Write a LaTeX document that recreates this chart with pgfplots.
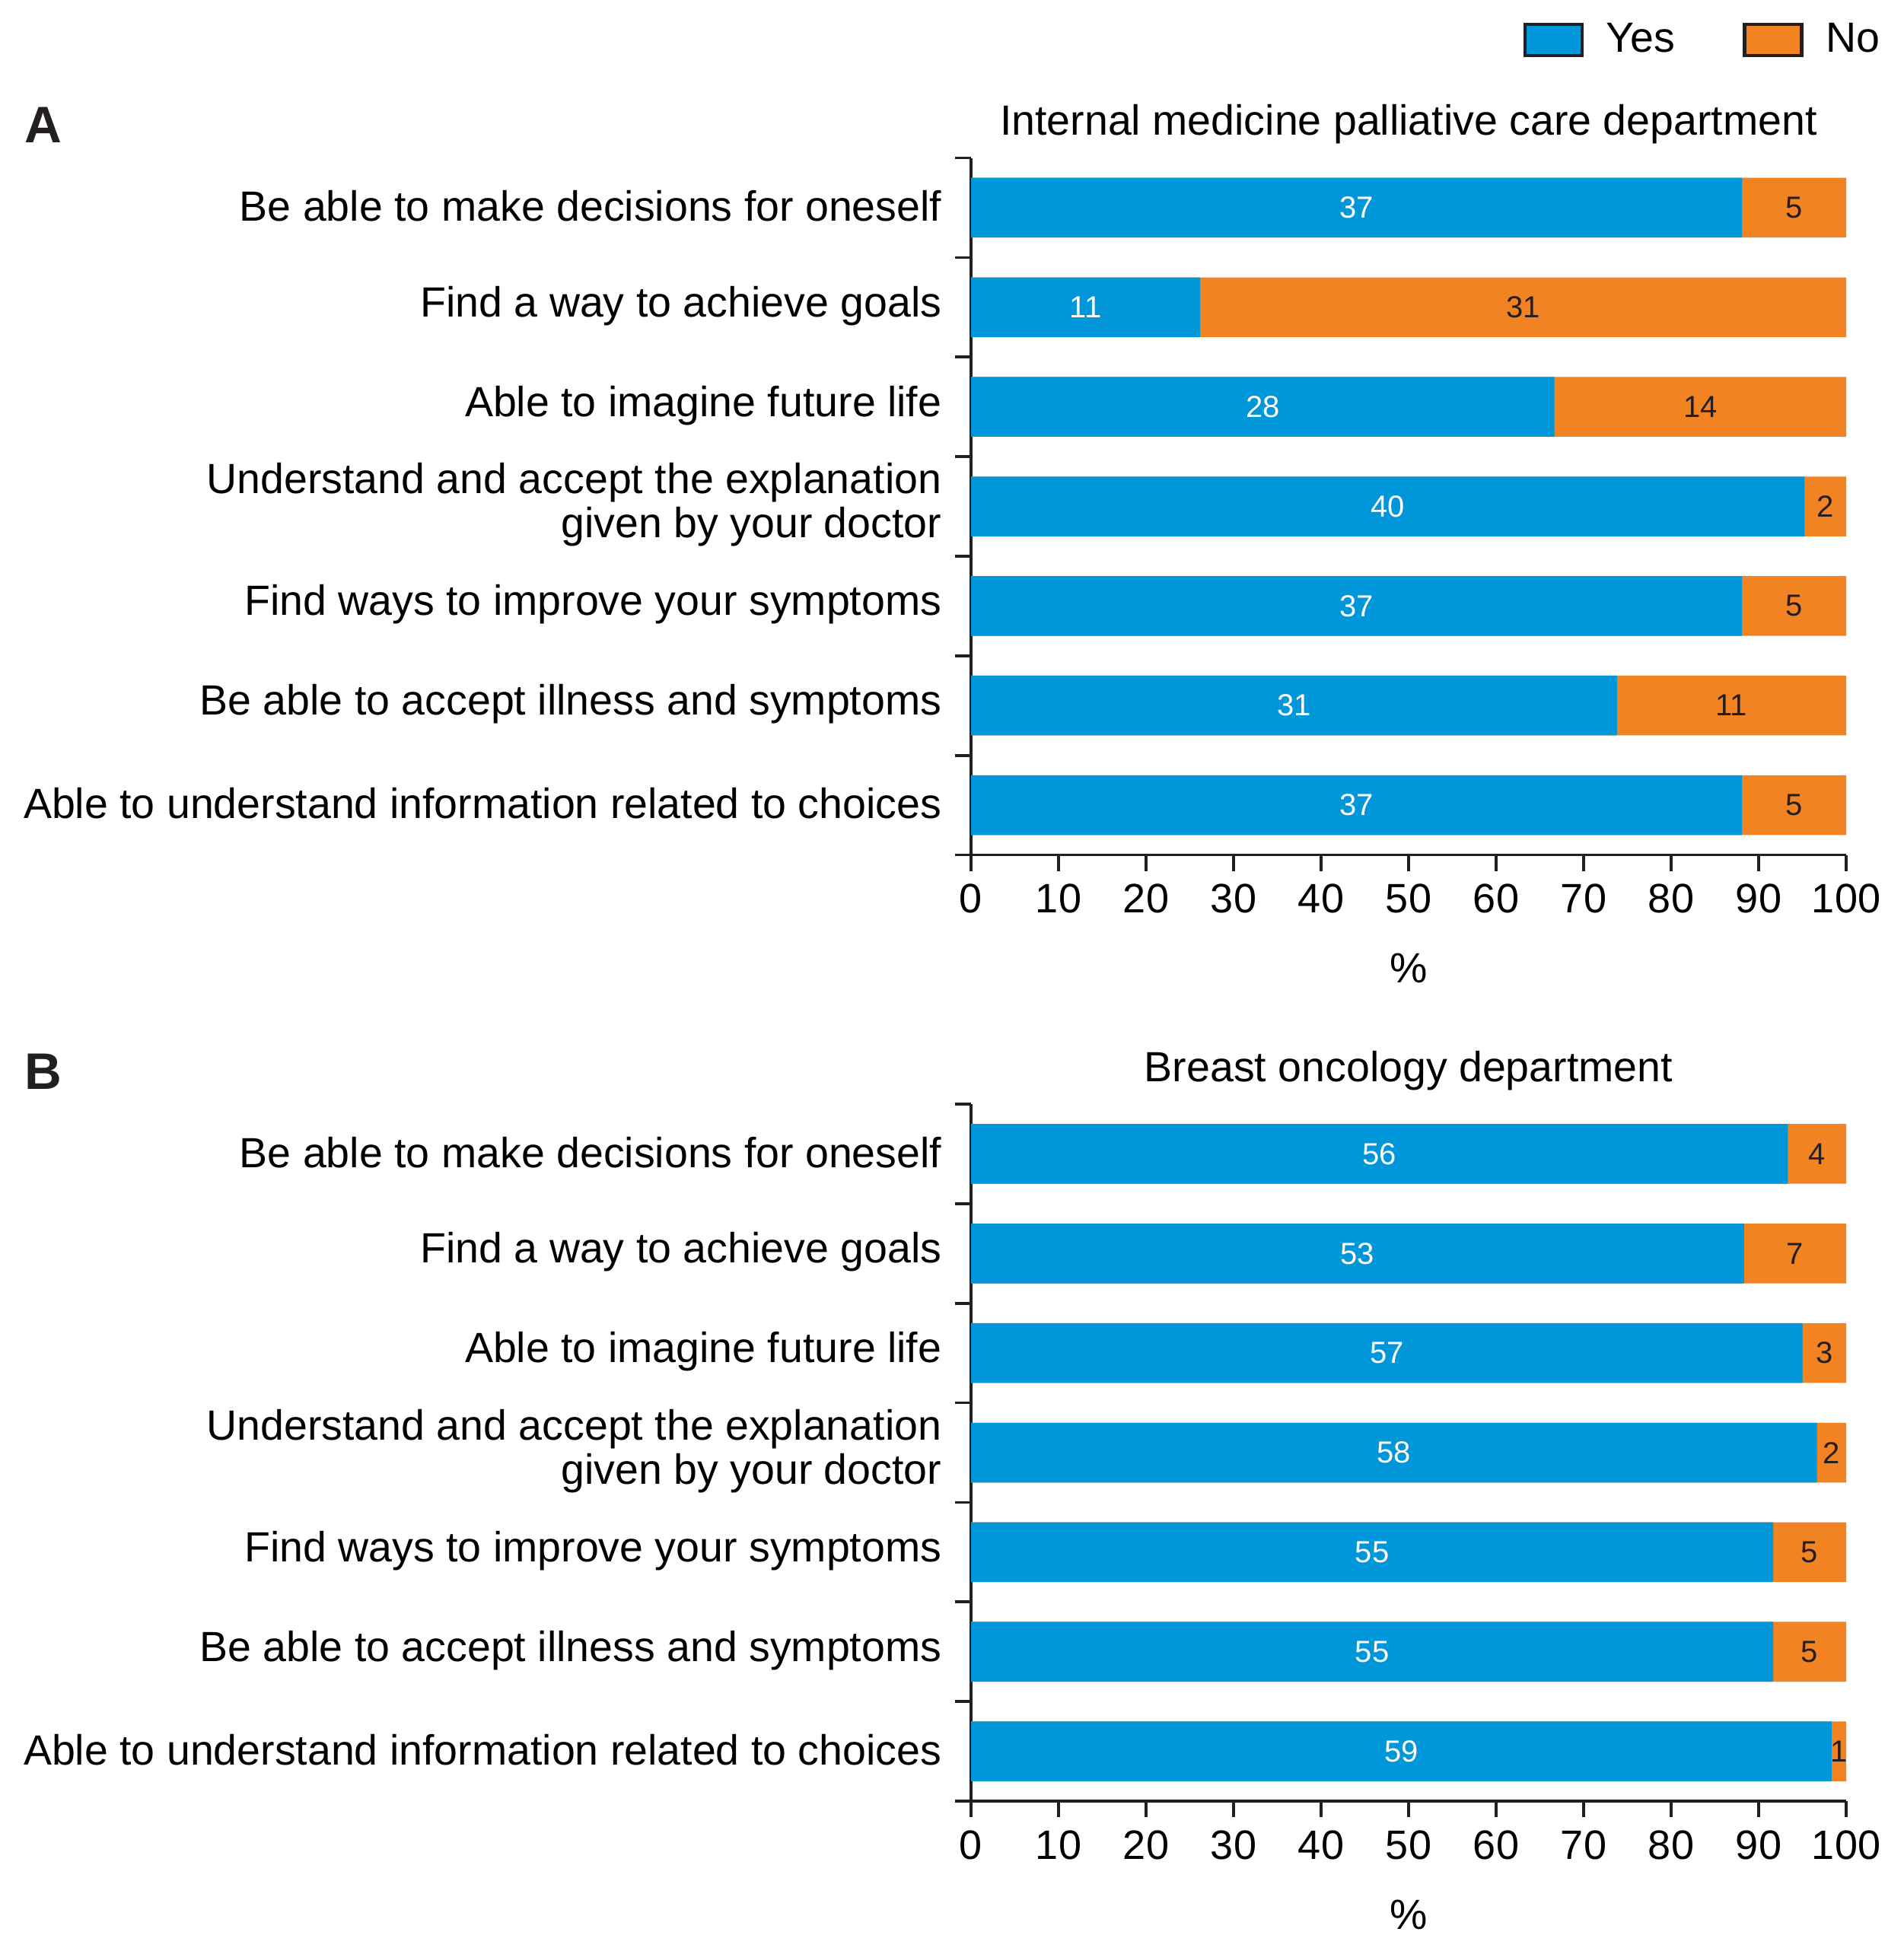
\documentclass[border=0pt]{standalone}
\usepackage{fontspec}
\setmainfont{Liberation Sans}
\usepackage{pgfplots}
\pgfplotsset{compat=1.18}
\usepackage{pgfplotstable}
\definecolor{yesblue}{HTML}{0096DA}
\definecolor{noorange}{HTML}{F28322}
\definecolor{axisblack}{HTML}{231F20}

% y = position (6 = top row); total A = 42, total B = 60
\pgfplotstableread{
y yes no
6 37 5
5 11 31
4 28 14
3 40 2
2 37 5
1 31 11
0 37 5
}\dataA
\pgfplotstableread{
y yes no
6 56 4
5 53 7
4 57 3
3 58 2
2 55 5
1 55 5
0 59 1
}\dataB

\newcommand{\mainfont}{\fontsize{11.1}{11.6}\selectfont}
\newcommand{\tickfont}{\fontsize{10.8}{12}\selectfont}
\newcommand{\barfont}{\fontsize{8}{9}\selectfont}

\pgfplotsset{
  panel/.style={
    scale only axis, width=230pt, height=183.2pt,
    xmin=0, xmax=100, ymin=-0.5, ymax=6.5,
    axis x line*=bottom, axis y line*=left,
    axis line style={line width=0.75pt, axisblack},
    every tick/.style={line width=0.75pt, axisblack},
    tick align=outside,
    major tick length=4.2pt,
    xtick={0,10,...,100},
    ytick={-0.5,0.5,...,6.5},
    yticklabels={},
    extra y ticks={0,1,2,3,4,5,6},
    extra y tick labels={
      Able to understand information related to choices,
      Be able to accept illness and symptoms,
      Find ways to improve your symptoms,
      {Understand and accept the explanation\\given by your doctor},
      Able to imagine future life,
      Find a way to achieve goals,
      Be able to make decisions for oneself},
    extra y tick style={tick style={draw=none},
      yticklabel style={align=right, font=\mainfont, yshift=0.4pt}},
    /pgf/number format/assume math mode=true,
    xticklabel style={font=\tickfont},
    xlabel={\%},
    xlabel style={font=\mainfont, at={(axis description cs:0.5,0)}, anchor=center, yshift=-29.8pt},
    title style={font=\mainfont, at={(axis description cs:0.5,1)}, anchor=base, yshift=0pt},
    clip=false,
  },
  yesbar/.style={xbar, bar width=0.6, bar shift=0pt, fill=yesblue, draw=none, forget plot},
  nobar/.style={xbar, bar width=0.6, bar shift=0pt, fill=noorange, draw=none, forget plot},
  yeslab/.style={draw=none, mark=none, forget plot, nodes near coords, point meta=explicit,
    every node near coord/.append style={anchor=center, text=white, font=\barfont}},
  nolab/.style={draw=none, mark=none, forget plot, nodes near coords, point meta=explicit,
    every node near coord/.append style={anchor=center, text=axisblack, font=\barfont}},
}

\begin{document}
\begin{tikzpicture}
\useasboundingbox (0pt,0pt) rectangle (500.2pt,-512.8pt);

\node[anchor=base west, inner sep=0pt, font=\fontsize{13.5}{14}\selectfont\bfseries, text=axisblack] at (6.3pt,-37.6pt) {A};
\node[anchor=base west, inner sep=0pt, font=\fontsize{13.5}{14}\selectfont\bfseries, text=axisblack] at (6.3pt,-286.2pt) {B};

\begin{axis}[panel, at={(255.2pt,-224.7pt)}, anchor=south west,
  title={Internal medicine palliative care department},
  legend style={at={(axis description cs:1.048,1.206)}, anchor=north east, draw=none, fill=none,
    inner sep=0pt, font=\mainfont, legend columns=2, column sep=3.9pt,
    /tikz/every even column/.append style={column sep=15.8pt}},
  ]
  \addplot[nobar] table[x expr=(\thisrow{yes}+\thisrow{no})/42*100, y=y]{\dataA};
  \addplot[yesbar] table[x expr=\thisrow{yes}/42*100, y=y]{\dataA};
  \addplot[yeslab] table[x expr=\thisrow{yes}/42*50, y=y, meta=yes]{\dataA};
  \addplot[nolab] table[x expr=(\thisrow{yes}+\thisrow{no}/2)/42*100, y=y, meta=no]{\dataA};
  \addlegendimage{legend image code/.code={\draw[fill=yesblue, draw=axisblack, line width=0.9pt] (0pt,-4.1pt) rectangle (15pt,4.1pt);}}
  \addlegendentry{Yes}
  \addlegendimage{legend image code/.code={\draw[fill=noorange, draw=axisblack, line width=0.9pt] (0pt,-4.1pt) rectangle (15pt,4.1pt);}}
  \addlegendentry{No}
\end{axis}

\begin{axis}[panel, at={(255.2pt,-473.4pt)}, anchor=south west,
  title={Breast oncology department}]
  \addplot[nobar] table[x expr=(\thisrow{yes}+\thisrow{no})/60*100, y=y]{\dataB};
  \addplot[yesbar] table[x expr=\thisrow{yes}/60*100, y=y]{\dataB};
  \addplot[yeslab] table[x expr=\thisrow{yes}/60*50, y=y, meta=yes]{\dataB};
  \addplot[nolab] table[x expr=(\thisrow{yes}+\thisrow{no}/2)/60*100, y=y, meta=no]{\dataB};
\end{axis}
\end{tikzpicture}
\end{document}
